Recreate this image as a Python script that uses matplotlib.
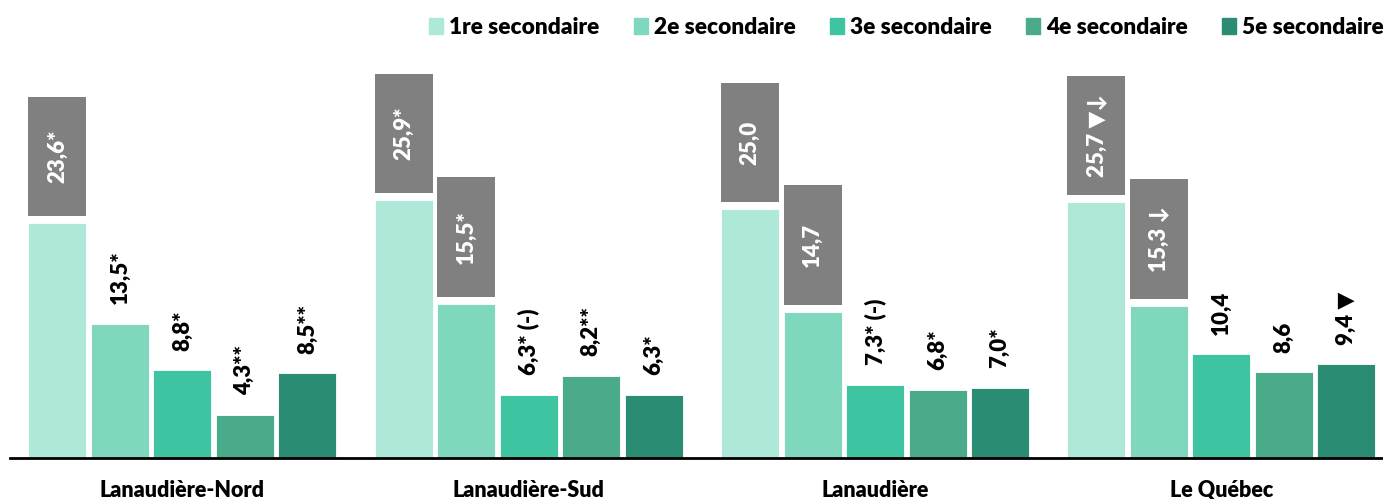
import numpy as np
import matplotlib
matplotlib.use('Agg')
import matplotlib.pyplot as plt
from matplotlib.patches import Patch

plt.rcParams['font.family'] = ['Lato', 'DejaVu Sans']

# Données
regions = ['Lanaudière-Nord', 'Lanaudière-Sud', 'Lanaudière', 'Le Québec']
niveaux = ['1re secondaire', '2e secondaire', '3e secondaire', '4e secondaire', '5e secondaire']
sec1 = [23.6, 25.9, 25.0, 25.7]
sec2 = [13.5, 15.5, 14.7, 15.3]
sec3 = [8.8, 6.3, 7.3, 10.4]
sec4 = [4.3, 8.2, 6.8, 8.6]
sec5 = [8.5, 6.3, 7.0, 9.4]
lab1 = ['23,6*', '25,9*', '25,0', '25,7 ▼↓']
lab2 = ['13,5*', '15,5*', '14,7', '15,3 ↓']
lab3 = ['8,8*', '6,3* (-)', '7,3* (-)', '10,4']
lab4 = ['4,3**', '8,2**', '6,8*', '8,6']
lab5 = ['8,5**', '6,3*', '7,0*', '9,4 ▼']
# valeurs mises en évidence (encadré gris)
box1 = [True, True, True, True]
box2 = [False, True, True, True]
box3 = [False, False, False, False]
box4 = [False, False, False, False]
box5 = [False, False, False, False]

couleurs = ['#AEE8D8', '#7FD8BE', '#3EC4A0', '#4AAB8A', '#2A8C73']
gris = '#808080'

series = [sec1, sec2, sec3, sec4, sec5]
labels = [lab1, lab2, lab3, lab4, lab5]
boxes = [box1, box2, box3, box4, box5]

poids = 'heavy'

fig = plt.figure(figsize=(13.83, 4.99), dpi=100)
ax = fig.add_axes([10/1383, 41/499, 1 - 10/1383, 418/499])

x = np.arange(len(regions))
step = 0.1805
width = 0.1675
box_h = 12.0
gap = 0.7

for i in range(5):
    xi = x + (i - 2) * step
    ax.bar(xi, series[i], width, color=couleurs[i], edgecolor='white', linewidth=0.6)
    for j in range(len(regions)):
        v = series[i][j]
        if boxes[i][j]:
            ax.bar(xi[j], box_h, width, bottom=v + gap, color=gris)
            ax.text(xi[j], v + gap + box_h / 2, labels[i][j], rotation=90, ha='center',
                    va='center', color='white', fontsize=16, fontweight=poids)
        else:
            ax.text(xi[j], v + 2.0, labels[i][j], rotation=90, ha='center', va='bottom',
                    color='black', fontsize=16, fontweight=poids)

ax.set_xlim(-0.498, 3.467)
ax.set_ylim(0, 42.0)
ax.set_xticks(x)
ax.set_xticklabels(regions, fontsize=15.5, fontweight=poids)
ax.tick_params(axis='x', length=0, pad=16)
ax.set_yticks([])
for s in ['top', 'right', 'left']:
    ax.spines[s].set_visible(False)
ax.spines['bottom'].set_linewidth(2)
ax.spines['bottom'].set_color('black')

handles = [Patch(color=c, label=n) for c, n in zip(couleurs, niveaux)]
fig.legend(handles=handles, loc='upper right', bbox_to_anchor=(1.013, 1.0), ncol=5, frameon=False,
           handlelength=0.62, handleheight=0.75, handletextpad=0.28,
           columnspacing=1.5, borderaxespad=0.35, prop={'weight': poids, 'size': 16.3})

fig.savefig('out.png', dpi=100)
